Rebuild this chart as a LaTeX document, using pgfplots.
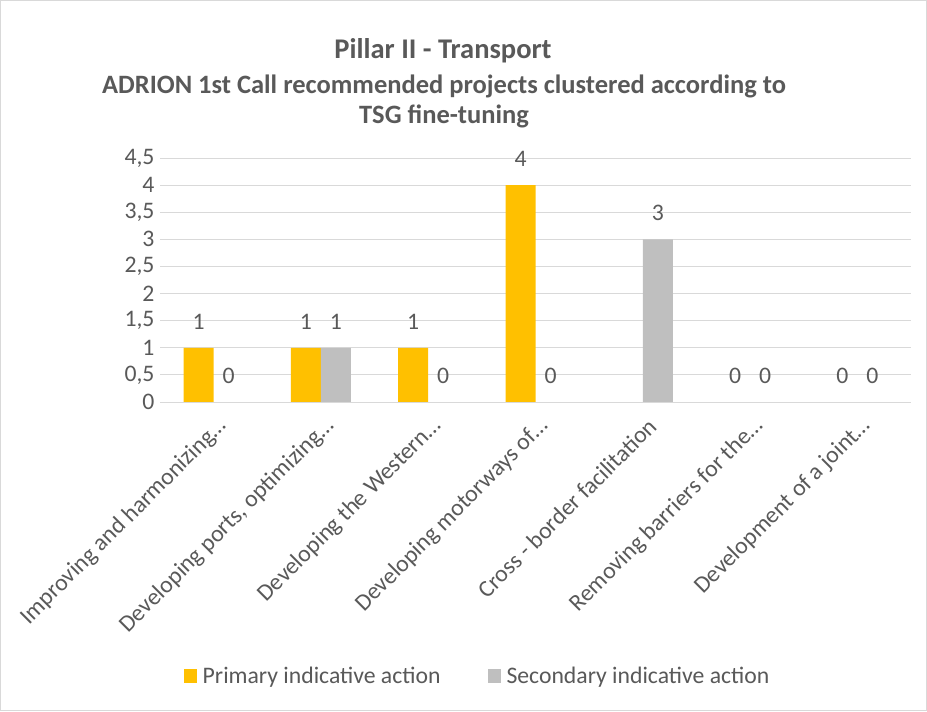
\documentclass[border=0pt]{standalone}
\usepackage{pgfplots}
\pgfplotsset{compat=1.18}
\usepackage{fontspec}
\setmainfont{Carlito}
\definecolor{barorange}{HTML}{FFC000}
\definecolor{bargrey}{HTML}{BFBFBF}
\definecolor{gridgrey}{HTML}{D9D9D9}
\definecolor{txt}{HTML}{595959}
\begin{document}
\begin{tikzpicture}[x=1pt,y=1pt]
\begin{axis}[
  scale only axis, width=751pt, height=244pt,
  clip=false,
  ymin=0, ymax=4.5, xmin=-0.5, xmax=6.5,
  ybar=0pt, bar width=30pt,
  ytick={0,0.5,1,1.5,2,2.5,3,3.5,4,4.5},
  xtick={0,1,2,3,4,5,6},
  xticklabels={Improving and harmonizing\dots, {Developing ports, optimizing\dots}, Developing the Western\dots, Developing motorways of\dots, Cross - border facilitation, Removing barriers for the\dots, Development of a joint\dots},
  ymajorgrids, major grid style={gridgrey, line width=1pt},
  axis line style={draw=none}, major tick length=0pt,
  tick label style={font=\fontsize{23.7}{28}\selectfont, text=txt},
  /pgf/number format/use comma,
  /pgf/number format/assume math mode=true,
  yticklabel style={xshift=-2pt},
  xticklabel style={xshift=12pt, yshift=-18pt, rotate=45, anchor=east, font=\fontsize{23.7}{28}\selectfont},
  nodes near coords,
  every node near coord/.append style={anchor=center, yshift=26pt, font=\fontsize{23.7}{28}\selectfont, text=txt},
  legend image code/.code={\fill[#1] (0pt,-7pt) rectangle (13pt,7pt);},
  legend style={at={(0.4228,-1.123)}, anchor=center, draw=none, legend columns=2,
    font=\fontsize{23.7}{28}\selectfont, text=txt,
    /tikz/every odd column/.append style={column sep=4pt},
    /tikz/every even column/.append style={column sep=45pt}},
]
\addplot[fill=barorange, draw=none] coordinates {(0,1) (1,1) (2,1) (3,4) (5,0) (6,0)};
\addlegendentry{Primary indicative action}
\addplot[fill=bargrey, draw=none] coordinates {(0,0) (1,1) (2,0) (3,0) (4,3) (5,0) (6,0)};
\addlegendentry{Secondary indicative action}
\draw[gridgrey, line width=1pt] (rel axis cs:0,0) -- (rel axis cs:1,0);
\draw[gridgrey, line width=1pt] (rel axis cs:-0.2124,-1.2643) rectangle (rel axis cs:1.0206,1.6455);
\node[anchor=base, font=\bfseries\fontsize{28.5}{34}\selectfont, text=txt, inner sep=0pt] at (rel axis cs:0.3768,1.4098) {Pillar II - Transport};
\node[anchor=base, font=\bfseries\fontsize{26.5}{32}\selectfont, text=txt, inner sep=0pt] at (rel axis cs:0.3782,1.2664) {ADRION 1st Call recommended projects clustered according to};
\node[anchor=base, font=\bfseries\fontsize{26.5}{32}\selectfont, text=txt, inner sep=0pt] at (rel axis cs:0.3782,1.1434) {TSG fine-tuning};
\end{axis}
\end{tikzpicture}
\end{document}
